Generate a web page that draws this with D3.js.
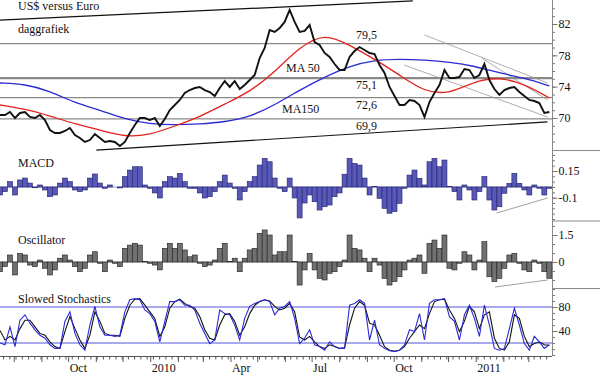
<!DOCTYPE html>
<html>
<head>
<meta charset="utf-8">
<script src="https://cdn.jsdelivr.net/npm/d3@7"></script>
<style>
body { margin: 0; background: #fff; }
text { font-family: "Liberation Serif", "Times New Roman", serif; font-size: 12px; fill: #111; }
</style>
</head>
<body>
<script>
// one sample roughly every 4 trading days, starting mid July 2009
var firstDate = new Date(2009, 6, 16);
var stepDays = 5.6;

var price = [70.38, 70.38, 70.77, 70.00, 70.64, 70.77, 70.13, 70.00, 70.38, 69.74,
             68.47, 68.09, 68.09, 68.34, 68.72, 67.83, 67.45, 66.94, 67.19, 67.96,
             67.45, 66.94, 67.06, 66.94, 66.43, 66.94, 68.09, 69.11, 70.00, 70.00,
             69.74, 70.00, 68.98, 69.87, 71.02, 71.66, 72.30, 73.19, 73.57, 73.83,
             73.96, 73.57, 73.32, 72.81, 73.83, 74.72, 73.96, 74.72, 73.70, 74.21,
             74.85, 75.50, 77.66, 78.94, 81.23, 80.98, 81.49, 82.26, 83.79, 82.26,
             80.98, 81.11, 81.87, 79.70, 79.32, 78.30, 77.79, 76.89, 76.13, 76.13,
             77.79, 78.55, 79.06, 78.68, 78.30, 78.17, 76.77, 75.74, 73.96, 72.81,
             71.66, 71.66, 72.30, 72.17, 71.66, 70.13, 72.04, 73.19, 74.21, 76.13,
             75.11, 75.11, 75.23, 76.26, 76.13, 75.11, 75.49, 76.89, 74.85, 73.70,
             72.94, 73.57, 73.83, 73.96, 73.32, 72.81, 72.30, 72.17, 71.91, 70.64, 70.77];

// moving averages, one value every 5th sample
var maEvery = 5;
var ma50 = [71.66, 71.15, 70.26, 69.23, 68.47, 67.57, 67.83, 68.98, 70.13, 71.79,
            73.32, 75.87, 79.06, 80.85, 79.32, 77.53, 75.49, 73.32, 73.06, 74.72,
            75.23, 74.34, 72.55];
var ma150 = [74.47, 74.34, 73.45, 71.91, 71.02, 69.87, 69.23, 69.11, 69.23, 69.49,
             70.13, 71.66, 73.57, 75.23, 76.64, 77.40, 77.53, 77.40, 77.15, 76.64,
             75.74, 75.11, 74.09];

var macd = [-0.075, -0.044, 0.050, -0.075, 0.066, 0.084, 0.037, -0.007, 0.019, -0.028,
            -0.091, -0.075, 0.037, 0.084, 0.050, -0.028, -0.044, -0.028, 0.084, 0.122,
            0.037, -0.012, 0.019, 0.000, -0.009, 0.097, 0.159, 0.190, 0.190, 0.019,
            -0.012, -0.056, -0.103, 0.050, 0.097, 0.084, 0.128, 0.050, -0.012, -0.012,
            -0.056, -0.103, -0.091, -0.044, 0.050, 0.112, 0.037, -0.012, -0.122, -0.044,
            0.050, 0.097, 0.206, 0.269, 0.237, 0.084, -0.012, -0.044, 0.084, -0.103,
            -0.290, -0.150, -0.075, -0.138, -0.216, -0.185, -0.169, -0.091, -0.056, 0.120,
            0.269, 0.222, 0.206, 0.084, -0.075, 0.003, -0.106, -0.200, -0.246, -0.231,
            -0.153, -0.012, 0.112, 0.159, 0.082, 0.019, 0.237, 0.269, 0.190, 0.253,
            0.003, -0.044, -0.122, 0.019, -0.028, -0.122, -0.044, 0.097, -0.122, -0.216,
            -0.185, -0.059, 0.035, 0.128, 0.035, -0.028, -0.075, 0.019, -0.012, -0.075, -0.012];

var osc = [-0.54, -0.26, 0.39, -0.72, 0.48, 0.39, -0.17, -0.26, 0.11, -0.35,
           -0.72, -0.44, 0.21, 0.39, 0.11, -0.26, -0.54, -0.35, 0.39, 0.57,
           -0.07, -0.54, 0.11, -0.07, -0.26, 0.76, 0.94, 1.04, 0.94, 0.02,
           -0.07, -0.17, -0.44, 0.76, 1.04, 0.76, 1.04, 0.67, 0.29, 0.39,
           -0.07, -0.26, -0.17, 0.11, 0.76, 1.04, 0.02, 0.21, -0.54, 0.21,
           0.67, 0.76, 1.59, 1.78, 1.50, 0.39, 0.57, 0.57, 1.50, 0.02,
           -1.28, -0.44, 0.48, -0.44, -0.91, -1.00, -0.63, -0.54, -0.26, 0.11,
           1.50, 0.76, 0.67, 0.21, -0.54, 0.21, -0.17, -0.91, -1.28, -1.09,
           -0.82, -0.44, 0.11, 0.21, 0.39, -0.63, 1.04, 1.22, 0.76, 1.50,
           -0.35, -0.44, -0.07, 0.57, 0.39, -0.44, 0.11, 1.13, -0.82, -1.09,
           -0.91, -0.35, 0.39, 0.48, -0.07, -0.44, -0.54, 0.11, -0.07, -0.54, -0.91];

var stochK = [20, 17, 47, 14, 58, 67, 53, 42, 33, 28,
              17, 11, 11, 56, 72, 36, 17, 8, 50, 81,
              47, 33, 33, 31, 33, 72, 92, 94, 92, 75,
              69, 56, 22, 56, 89, 89, 92, 83, 83, 75,
              53, 36, 19, 25, 75, 69, 67, 50, 25, 61,
              81, 86, 89, 92, 89, 67, 78, 81, 89, 61,
              19, 28, 42, 17, 14, 8, 22, 14, 11, 11,
              83, 86, 92, 86, 25, 58, 17, 11, 7, 6,
              8, 17, 42, 39, 69, 25, 86, 92, 92, 94,
              64, 56, 25, 67, 83, 61, 31, 83, 50, 11,
              8, 11, 44, 78, 50, 19, 8, 31, 22, 11, 17];
var stochD = [41, 25, 31, 25, 44, 58, 58, 47, 36, 33,
              22, 14, 11, 39, 64, 44, 25, 11, 33, 72,
              56, 36, 33, 33, 31, 61, 83, 93, 94, 83,
              72, 61, 31, 47, 78, 89, 93, 86, 81, 78,
              64, 42, 28, 25, 50, 67, 69, 56, 33, 47,
              69, 83, 89, 92, 90, 81, 75, 78, 86, 72,
              30, 25, 31, 22, 14, 11, 17, 14, 11, 12,
              50, 78, 89, 83, 53, 50, 33, 14, 8, 6,
              8, 14, 28, 39, 50, 44, 69, 89, 92, 93,
              75, 61, 39, 56, 81, 72, 44, 67, 72, 28,
              11, 8, 22, 67, 61, 31, 14, 19, 22, 17, 16];

var levels = [79.5, 75.1, 72.6, 69.9];
var levelLabels = ["79,5", "75,1", "72,6", "69,9"];

var priceTicks = [70, 74, 78, 82];
var macdTicks = [0.15, -0.1];
var oscTicks = [1.5, 0];
var stochTicks = [80, 40];
var stochBands = [80, 20];

var monthLabels = [
  [new Date(2009, 9, 1), "Oct"], [new Date(2010, 0, 1), "2010"], [new Date(2010, 3, 1), "Apr"],
  [new Date(2010, 6, 1), "Jul"], [new Date(2010, 9, 1), "Oct"], [new Date(2011, 0, 1), "2011"]
];

// hand drawn trend lines, [date, value] end points
var priceTrends = [
  {a: [new Date(2009, 6, 16), 82.5], b: [new Date(2010, 9, 22), 84.95], c: "#111", w: 1.2},
  {a: [new Date(2009, 10, 1), 65.9], b: [new Date(2011, 2, 22), 69.5], c: "#111", w: 1.2},
  {a: [new Date(2010, 10, 4), 80.6], b: [new Date(2011, 2, 22), 74.47], c: "#999", w: 0.8},
  {a: [new Date(2010, 9, 12), 76.77], b: [new Date(2011, 2, 22), 70.13], c: "#999", w: 0.8},
  {a: [new Date(2011, 0, 7), 77.66], b: [new Date(2011, 2, 22), 72.3], c: "#999", w: 0.8}
];
var macdTrend = [[new Date(2011, 0, 24), -0.244], [new Date(2011, 2, 22), -0.103]];
var oscTrend = [[new Date(2011, 0, 22), -1.39], [new Date(2011, 2, 22), -1.0]];

var w = 600;
var h = 375;
var right = 552;

function dateAt(i) {
  return new Date(firstDate.getTime() + i * stepDays * 864e5);
}

var svg = d3.select("body")
            .append("svg")
            .attr("width", w)
            .attr("height", h);

var x = d3.scaleTime()
          .domain([new Date(2009, 6, 16), new Date(2011, 2, 27)])
          .range([0, right]);

var yP = d3.scaleLinear().domain([70, 82]).range([118, 24]);
var yM = d3.scaleLinear().domain([0, 0.15]).range([187, 171]);
var yO = d3.scaleLinear().domain([0, 1.5]).range([262, 235]);
var yS = d3.scaleLinear().domain([0, 100]).range([355, 295]);

var barW = x(dateAt(1)) - x(dateAt(0));

// price panel: level lines
svg.selectAll("line.level")
   .data(levels)
   .enter()
   .append("line")
   .attr("x1", 0)
   .attr("x2", right)
   .attr("y1", function(d){ return yP(d); })
   .attr("y2", function(d){ return yP(d); })
   .attr("stroke", "#8a8a8a")
   .attr("stroke-width", function(d, i){ return i == 1 ? 2.2 : 1.2; });

svg.selectAll("text.level")
   .data(levels)
   .enter()
   .append("text")
   .text(function(d, i){ return levelLabels[i]; })
   .attr("x", 356)
   .attr("y", function(d, i){ return i == 0 ? yP(d) - 5 : yP(d) + 11; });

priceTrends.forEach(function(t){
  svg.append("line")
     .attr("x1", x(t.a[0])).attr("y1", yP(t.a[1]))
     .attr("x2", x(t.b[0])).attr("y2", yP(t.b[1]))
     .attr("stroke", t.c)
     .attr("stroke-width", t.w);
});

var maLine = function(vals){
  return d3.line()
           .x(function(d, i){ return x(dateAt(i * maEvery)); })
           .y(function(d){ return yP(d); })
           .curve(d3.curveBasis)(vals);
};

svg.append("path")
   .attr("d", maLine(ma150))
   .attr("fill", "none")
   .attr("stroke", "#2a2ad2")
   .attr("stroke-width", 1.3);

svg.append("path")
   .attr("d", maLine(ma50))
   .attr("fill", "none")
   .attr("stroke", "#e3221c")
   .attr("stroke-width", 1.3);

svg.append("path")
   .attr("d", d3.line()
                .x(function(d, i){ return x(dateAt(i)); })
                .y(function(d){ return yP(d); })(price))
   .attr("fill", "none")
   .attr("stroke", "#111")
   .attr("stroke-width", 1.9)
   .attr("stroke-linejoin", "miter");

svg.append("text").text("US$ versus Euro").attr("x", 18).attr("y", 10);
svg.append("text").text("daggrafiek").attr("x", 18).attr("y", 33);
svg.append("text").text("MA 50").attr("x", 286).attr("y", 72);
svg.append("text").text("MA150").attr("x", 282).attr("y", 113);

// MACD histogram
svg.append("line")
   .attr("x1", 0).attr("x2", right)
   .attr("y1", yM(0)).attr("y2", yM(0))
   .attr("stroke", "#9a9ad8");

svg.selectAll("rect.macd")
   .data(macd)
   .enter()
   .append("rect")
   .attr("x", function(d, i){ return x(dateAt(i)) - barW / 2; })
   .attr("y", function(d){ return Math.min(yM(d), yM(0)); })
   .attr("width", barW)
   .attr("height", function(d){ return Math.abs(yM(d) - yM(0)); })
   .attr("fill", "#5858b8")
   .attr("stroke", "#22226a")
   .attr("stroke-width", 0.6);

svg.append("line")
   .attr("x1", x(macdTrend[0][0])).attr("y1", yM(macdTrend[0][1]))
   .attr("x2", x(macdTrend[1][0])).attr("y2", yM(macdTrend[1][1]))
   .attr("stroke", "#888").attr("stroke-width", 0.8);

svg.append("text").text("MACD").attr("x", 18).attr("y", 167);

// Oscillator histogram
svg.append("line")
   .attr("x1", 0).attr("x2", right)
   .attr("y1", yO(0)).attr("y2", yO(0))
   .attr("stroke", "#aaa");

svg.selectAll("rect.osc")
   .data(osc)
   .enter()
   .append("rect")
   .attr("x", function(d, i){ return x(dateAt(i)) - barW / 2; })
   .attr("y", function(d){ return Math.min(yO(d), yO(0)); })
   .attr("width", barW)
   .attr("height", function(d){ return Math.abs(yO(d) - yO(0)); })
   .attr("fill", "#707070")
   .attr("stroke", "#1e1e1e")
   .attr("stroke-width", 0.6);

svg.append("line")
   .attr("x1", x(oscTrend[0][0])).attr("y1", yO(oscTrend[0][1]))
   .attr("x2", x(oscTrend[1][0])).attr("y2", yO(oscTrend[1][1]))
   .attr("stroke", "#888").attr("stroke-width", 0.8);

svg.append("text").text("Oscillator").attr("x", 18).attr("y", 244);

// Slowed stochastics
svg.selectAll("line.band")
   .data(stochBands)
   .enter()
   .append("line")
   .attr("x1", 0).attr("x2", right)
   .attr("y1", function(d){ return yS(d); })
   .attr("y2", function(d){ return yS(d); })
   .attr("stroke", "#5252dc")
   .attr("stroke-width", 1);

var stochLine = d3.line()
                  .x(function(d, i){ return x(dateAt(i)); })
                  .y(function(d){ return yS(d); });

svg.append("path")
   .attr("d", stochLine(stochD))
   .attr("fill", "none")
   .attr("stroke", "#111")
   .attr("stroke-width", 1.1);

svg.append("path")
   .attr("d", stochLine(stochK))
   .attr("fill", "none")
   .attr("stroke", "#2a2ad8")
   .attr("stroke-width", 1.1);

svg.append("text").text("Slowed Stochastics").attr("x", 18).attr("y", 303);

// right hand axes
svg.append("line")
   .attr("x1", right + 0.5).attr("x2", right + 0.5)
   .attr("y1", 0).attr("y2", 356)
   .attr("stroke", "#888");

[150.5, 221, 288.5].forEach(function(yy){
  svg.append("line")
     .attr("x1", right).attr("x2", w)
     .attr("y1", yy).attr("y2", yy)
     .attr("stroke", "#8a8a8a")
     .attr("stroke-width", 1.2);
});

function rightAxis(scale, major, minor){
  var gMin = svg.append("g")
                .attr("transform", "translate(" + (right + 0.5) + ",0)")
                .call(d3.axisRight(scale).tickValues(minor).tickSize(2.5).tickFormat(""));
  var gMaj = svg.append("g")
                .attr("transform", "translate(" + (right + 0.5) + ",0)")
                .call(d3.axisRight(scale).tickValues(major).tickSize(5).tickPadding(1)
                        .tickFormat(function(d){ return String(d); }));
  [gMin, gMaj].forEach(function(g){
    g.select(".domain").remove();
    g.selectAll("line").attr("stroke", "#777");
    g.selectAll("text")
     .attr("fill", "#111")
     .style("font-family", "'Liberation Serif', 'Times New Roman', serif")
     .style("font-size", "12px");
  });
}

rightAxis(yP, priceTicks, d3.range(67, 85, 1));
rightAxis(yM, macdTicks, d3.range(-0.3, 0.35, 0.05));
rightAxis(yO, oscTicks, d3.range(-1.5, 2.5, 0.5));
rightAxis(yS, stochTicks, d3.range(0, 101, 10));

// bottom time axis
svg.append("line")
   .attr("x1", 0).attr("x2", right)
   .attr("y1", 356.5).attr("y2", 356.5)
   .attr("stroke", "#555");

svg.selectAll("line.week")
   .data(d3.timeMonday.range(x.domain()[0], x.domain()[1]))
   .enter()
   .append("line")
   .attr("x1", function(d){ return x(d); })
   .attr("x2", function(d){ return x(d); })
   .attr("y1", 356.5).attr("y2", 359.5)
   .attr("stroke", "#555");

svg.selectAll("line.month")
   .data(d3.timeMonth.range(x.domain()[0], x.domain()[1]))
   .enter()
   .append("line")
   .attr("x1", function(d){ return x(d); })
   .attr("x2", function(d){ return x(d); })
   .attr("y1", 356.5).attr("y2", 362)
   .attr("stroke", "#555");

svg.selectAll("text.month")
   .data(monthLabels)
   .enter()
   .append("text")
   .text(function(d){ return d[1]; })
   .attr("x", function(d){ return x(d[0]) + 1; })
   .attr("y", 372);
</script>
</body>
</html>
